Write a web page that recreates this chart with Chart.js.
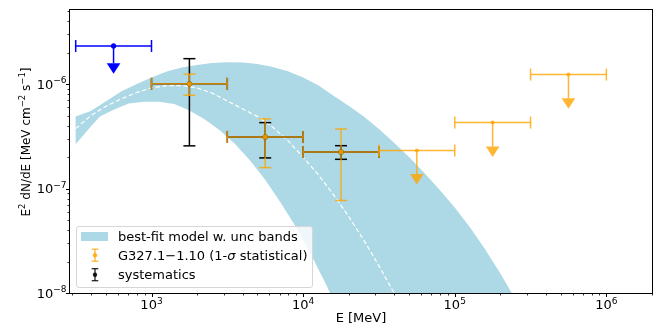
<!DOCTYPE html>
<html><head><meta charset="utf-8">
<script src="https://cdn.jsdelivr.net/npm/chart.js@4/dist/chart.umd.min.js"></script>
<style>
html,body{margin:0;padding:0;background:#fff;}
#wrap{position:relative;width:658px;height:326px;overflow:hidden;font-family:"DejaVu Sans";color:#000;}
#c{position:absolute;left:0;top:0;}
.lbl{position:absolute;white-space:nowrap;font-size:13px;line-height:15px;}
.lbl sup{font-size:9px;line-height:0;vertical-align:baseline;position:relative;top:-5.5px;}
#ytitle{position:absolute;white-space:nowrap;font-size:12px;line-height:14px;transform:translate(-50%,-50%) rotate(-90deg);}
#ytitle sup{font-size:8.5px;line-height:0;vertical-align:baseline;position:relative;top:-5px;}
#legend{position:absolute;left:76px;top:226px;width:237px;height:62px;box-sizing:border-box;border:1px solid #d6d6d6;border-radius:3px;background:rgba(255,255,255,0.8);font-size:13px;}
#legend .row{position:absolute;left:41px;height:19px;line-height:19px;white-space:nowrap;}
#legend .patch{position:absolute;left:4px;top:5px;width:27px;height:9px;background:#add8e6;}
#legend svg{position:absolute;left:0;top:0;}
</style></head>
<body>
<div id="wrap">
<canvas id="c" width="658" height="326"></canvas>
<div id="legend"></div>
</div>
<script>
// ---------- data ----------
// axis ticks
const xTickValues = [1e3, 1e4, 1e5, 1e6];
const xTickLabels = ['10<sup>3</sup>', '10<sup>4</sup>', '10<sup>5</sup>', '10<sup>6</sup>'];
const yTickValues = [1e-8, 1e-7, 1e-6];
const yTickLabels = ['10<sup>−8</sup>', '10<sup>−7</sup>', '10<sup>−6</sup>'];
const xTitle = 'E [MeV]';
const yTitle = 'E<sup>2</sup> dN/dE [MeV cm<sup>−2</sup> s<sup>−1</sup>]';

// blue upper limit
const blueE = [562];
const blueLo = [316.2];
const blueHi = [1000];
const blueF = [2.33e-6];
const blueEnd = [1.59e-6];

// G327.1-1.10 detections (1-sigma statistical) and systematics
const detE = [1778, 5623, 17783];
const detLo = [1000, 3162, 10000];
const detHi = [3162, 10000, 31623];
const detF = [1.01e-6, 3.13e-7, 2.25e-7];
const statHi = [1.25e-6, 4.66e-7, 3.73e-7];
const statLo = [7.85e-7, 1.59e-7, 7.7e-8];
const sysHi = [1.76e-6, 4.29e-7, 2.58e-7];
const sysLo = [2.57e-7, 1.97e-7, 1.91e-7];

// G327.1-1.10 upper limits
const ulE = [56234, 177828, 562341];
const ulLo = [31623, 100000, 316228];
const ulHi = [100000, 316228, 1000000];
const ulF = [2.32e-7, 4.3e-7, 1.24e-6];
const ulEnd = [1.38e-7, 2.53e-7, 7.35e-7];

// best-fit model band (upper / lower edges) and central model
const bandUpperE = [316, 398, 501, 631, 794, 1000, 1259, 1585, 1995, 2512, 3162, 3981, 5012, 6310, 7943, 10000, 12589, 15849, 19953, 25119, 31623, 39811, 50119, 63096, 79433, 100000, 125893, 158489, 199526, 251189, 316228];
const bandUpperF = [4.90e-7, 5.55e-7, 6.89e-7, 8.51e-7, 1.00e-6, 1.161e-6, 1.324e-6, 1.445e-6, 1.531e-6, 1.596e-6, 1.626e-6, 1.614e-6, 1.567e-6, 1.466e-6, 1.334e-6, 1.161e-6, 9.77e-7, 7.76e-7, 6.24e-7, 4.90e-7, 3.72e-7, 2.75e-7, 2.00e-7, 1.41e-7, 9.77e-8, 6.61e-8, 4.27e-8, 2.63e-8, 1.55e-8, 8.7e-9, 4.8e-9];
const bandLowerE = [316, 398, 457, 562, 708, 891, 1122, 1413, 1778, 2239, 2818, 3548, 4467, 5623, 7079, 8913, 11220, 14125, 17783];
const bandLowerF = [2.67e-7, 3.94e-7, 4.90e-7, 5.69e-7, 6.53e-7, 6.82e-7, 6.79e-7, 6.46e-7, 5.62e-7, 4.62e-7, 3.63e-7, 2.69e-7, 1.86e-7, 1.22e-7, 7.41e-8, 4.37e-8, 2.37e-8, 1.22e-8, 5.9e-9];
const modelE = [316, 398, 501, 631, 794, 1000, 1259, 1585, 1995, 2512, 3162, 3981, 5012, 6310, 7943, 10000, 12589, 15849, 19953, 25119, 31623, 39811, 50119];
const modelF = [3.76e-7, 5.01e-7, 6.17e-7, 7.24e-7, 8.32e-7, 9.23e-7, 9.70e-7, 9.73e-7, 9.23e-7, 8.22e-7, 6.92e-7, 5.82e-7, 4.90e-7, 3.88e-7, 2.88e-7, 2.0e-7, 1.36e-7, 8.77e-8, 5.42e-8, 3.21e-8, 1.82e-8, 1.0e-8, 5.1e-9];

const legendLabels = ['best-fit model w. unc bands', 'G327.1−1.10 (1-<i>σ</i> statistical)', 'systematics'];

// ---------- build chart ----------
const pts = (xs, ys) => xs.map((x, i) => ({x: x, y: ys[i]}));
const bandPoly = pts(bandUpperE, bandUpperF).concat(pts(bandLowerE, bandLowerF).reverse());

const ORANGE = 'rgba(255,165,0,0.8)';
const BLUE = '#0000ff';
const BLACK = '#000000';
const MODEL_INDEX = 4;

Chart.defaults.font.family = '"DejaVu Sans"';
Chart.defaults.font.size = 13;
Chart.defaults.color = '#000';

function hline(ctx, x1, x2, y) { ctx.beginPath(); ctx.moveTo(x1, y); ctx.lineTo(x2, y); ctx.stroke(); }
function vline(ctx, x, y1, y2) { ctx.beginPath(); ctx.moveTo(x, y1); ctx.lineTo(x, y2); ctx.stroke(); }

const errPlugin = {
  id: 'errbars',
  afterDatasetDraw(chart, args) {
    if (args.index !== MODEL_INDEX) return;
    const {ctx, chartArea: a, scales: {x, y}} = chart;
    const CAP = 6;
    ctx.save();
    ctx.beginPath(); ctx.rect(a.left, a.top, a.right - a.left, a.bottom - a.top); ctx.clip();
    ctx.lineWidth = 1.5;
    const xerr = (lo, hi, f) => {
      const x1 = x.getPixelForValue(lo), x2 = x.getPixelForValue(hi), py = y.getPixelForValue(f);
      hline(ctx, x1, x2, py); vline(ctx, x1, py - CAP, py + CAP); vline(ctx, x2, py - CAP, py + CAP);
    };
    const yerr = (e, lo, hi) => {
      const px = x.getPixelForValue(e), y1 = y.getPixelForValue(lo), y2 = y.getPixelForValue(hi);
      vline(ctx, px, y1, y2); hline(ctx, px - CAP, px + CAP, y1); hline(ctx, px - CAP, px + CAP, y2);
    };
    const ul = (e, lo, hi, f, end, color) => {
      ctx.strokeStyle = color; ctx.fillStyle = color;
      xerr(lo, hi, f);
      const px = x.getPixelForValue(e), py = y.getPixelForValue(f), pe = y.getPixelForValue(end);
      vline(ctx, px, py, pe);
      ctx.beginPath(); ctx.moveTo(px - 6.8, pe); ctx.lineTo(px + 6.8, pe); ctx.lineTo(px, pe + 10.5); ctx.closePath(); ctx.fill();
    };
    blueE.forEach((e, i) => ul(e, blueLo[i], blueHi[i], blueF[i], blueEnd[i], BLUE));
    ctx.strokeStyle = BLACK;
    detE.forEach((e, i) => { xerr(detLo[i], detHi[i], detF[i]); yerr(e, sysLo[i], sysHi[i]); });
    ctx.strokeStyle = ORANGE;
    detE.forEach((e, i) => { xerr(detLo[i], detHi[i], detF[i]); yerr(e, statLo[i], statHi[i]); });
    ulE.forEach((e, i) => ul(e, ulLo[i], ulHi[i], ulF[i], ulEnd[i], ORANGE));
    ctx.restore();
  }
};

const axesPlugin = {
  id: 'mplaxes',
  afterDraw(chart) {
    const {ctx, chartArea: a, scales: {x, y}} = chart;
    ctx.save();
    ctx.strokeStyle = '#000';
    const ticksFor = (scale, draw) => {
      const d0 = Math.floor(Math.log10(scale.min)), d1 = Math.ceil(Math.log10(scale.max));
      for (let d = d0; d <= d1; d++) for (let m = 1; m <= 9; m++) {
        const v = m * Math.pow(10, d);
        if (v < scale.min * 0.9999 || v > scale.max * 1.0001) continue;
        draw(scale.getPixelForValue(v), m === 1);
      }
    };
    ticksFor(x, (p, major) => { ctx.lineWidth = major ? 1 : 0.8; vline(ctx, Math.round(p) + 0.5, a.bottom, a.bottom + (major ? 4 : 2.5)); });
    ticksFor(y, (p, major) => { ctx.lineWidth = major ? 1 : 0.8; hline(ctx, a.left - (major ? 4 : 2.5), a.left, Math.round(p) + 0.5); });
    ctx.lineWidth = 1;
    ctx.strokeRect(a.left - 0.5, a.top - 0.5, a.right - a.left + 1, a.bottom - a.top + 1);
    ctx.restore();
  }
};

const chart = new Chart(document.getElementById('c'), {
  type: 'scatter',
  data: {
    datasets: [
      {label: 'stat', data: pts(detE, detF), pointRadius: 2.6, pointBackgroundColor: 'rgba(255,165,0,0.9)', pointBorderWidth: 0},
      {label: 'ul', data: pts(ulE, ulF), pointRadius: 2, pointBackgroundColor: ORANGE, pointBorderWidth: 0},
      {label: 'sys', data: pts(detE, detF), pointRadius: 2.6, pointBackgroundColor: BLACK, pointBorderWidth: 0},
      {label: 'blue', data: pts(blueE, blueF), pointRadius: 2.6, pointBackgroundColor: BLUE, pointBorderWidth: 0},
      {label: 'model', type: 'line', data: pts(modelE, modelF), borderColor: '#ffffff', borderWidth: 1.2, borderDash: [4.5, 2.5], pointRadius: 0, fill: false, tension: 0},
      {label: 'band', type: 'line', data: bandPoly, borderWidth: 0, borderColor: 'rgba(0,0,0,0)', backgroundColor: '#add8e6', pointRadius: 0, fill: 'shape', tension: 0}
    ]
  },
  options: {
    responsive: false, animation: false, events: [],
    layout: {padding: {left: 0, right: 6, top: 10, bottom: 0}},
    plugins: {legend: {display: false}, tooltip: {enabled: false}},
    scales: {
      x: {
        type: 'logarithmic', position: 'bottom', min: 290, max: 2e6,
        grid: {display: false, drawTicks: false}, border: {display: false},
        ticks: {display: false},
        afterBuildTicks: (s) => { s.ticks = xTickValues.map(v => ({value: v})); },
        afterFit: (s) => { s.height = 33; }
      },
      y: {
        type: 'logarithmic', position: 'left', min: 1e-8, max: 5.15e-6,
        grid: {display: false, drawTicks: false}, border: {display: false},
        ticks: {display: false},
        afterBuildTicks: (s) => { s.ticks = yTickValues.map(v => ({value: v})); },
        afterFit: (s) => { s.width = 70; }
      }
    }
  },
  plugins: [errPlugin, axesPlugin]
});

// ---------- tick labels and axis titles (placed with the chart's scales) ----------
const wrap = document.getElementById('wrap');
const addDiv = (cls, html, style) => { const d = document.createElement('div'); d.className = cls; d.innerHTML = html; Object.assign(d.style, style); wrap.appendChild(d); return d; };
const sx = chart.scales.x, sy = chart.scales.y, ca = chart.chartArea;
xTickValues.forEach((v, i) => addDiv('lbl', xTickLabels[i], {left: sx.getPixelForValue(v) + 'px', top: (ca.bottom + 4) + 'px', transform: 'translateX(-50%)'}));
yTickValues.forEach((v, i) => addDiv('lbl', yTickLabels[i], {right: (658 - ca.left + 3.5) + 'px', top: (sy.getPixelForValue(v) - 7.5) + 'px'}));
addDiv('lbl', xTitle, {left: ((ca.left + ca.right) / 2) + 'px', top: '309.5px', transform: 'translateX(-50%)'});
const yt = document.createElement('div'); yt.id = 'ytitle'; yt.innerHTML = yTitle; yt.style.left = '25.5px'; yt.style.top = '142px'; wrap.appendChild(yt);

// ---------- legend ----------
const lg = document.getElementById('legend');
let html = '<div class="patch"></div>';
const rowTops = [0, 19, 38];
legendLabels.forEach((t, i) => { html += '<div class="row" style="top:' + rowTops[i] + 'px">' + t + '</div>'; });
const glyph = (cy, color) =>
  '<line x1="18" y1="' + (cy - 6) + '" x2="18" y2="' + (cy + 6) + '" stroke="' + color + '" stroke-width="1.3"/>' +
  '<line x1="14.7" y1="' + (cy - 6) + '" x2="21.3" y2="' + (cy - 6) + '" stroke="' + color + '" stroke-width="1.3"/>' +
  '<line x1="14.7" y1="' + (cy + 6) + '" x2="21.3" y2="' + (cy + 6) + '" stroke="' + color + '" stroke-width="1.3"/>' +
  '<circle cx="18" cy="' + cy + '" r="2.2" fill="' + color + '"/>';
html += '<svg width="40" height="60">' + glyph(28.2, 'rgba(255,165,0,0.8)') + glyph(47.7, 'rgba(0,0,0,0.85)') + '</svg>';
lg.innerHTML = html;
</script>
</body></html>
